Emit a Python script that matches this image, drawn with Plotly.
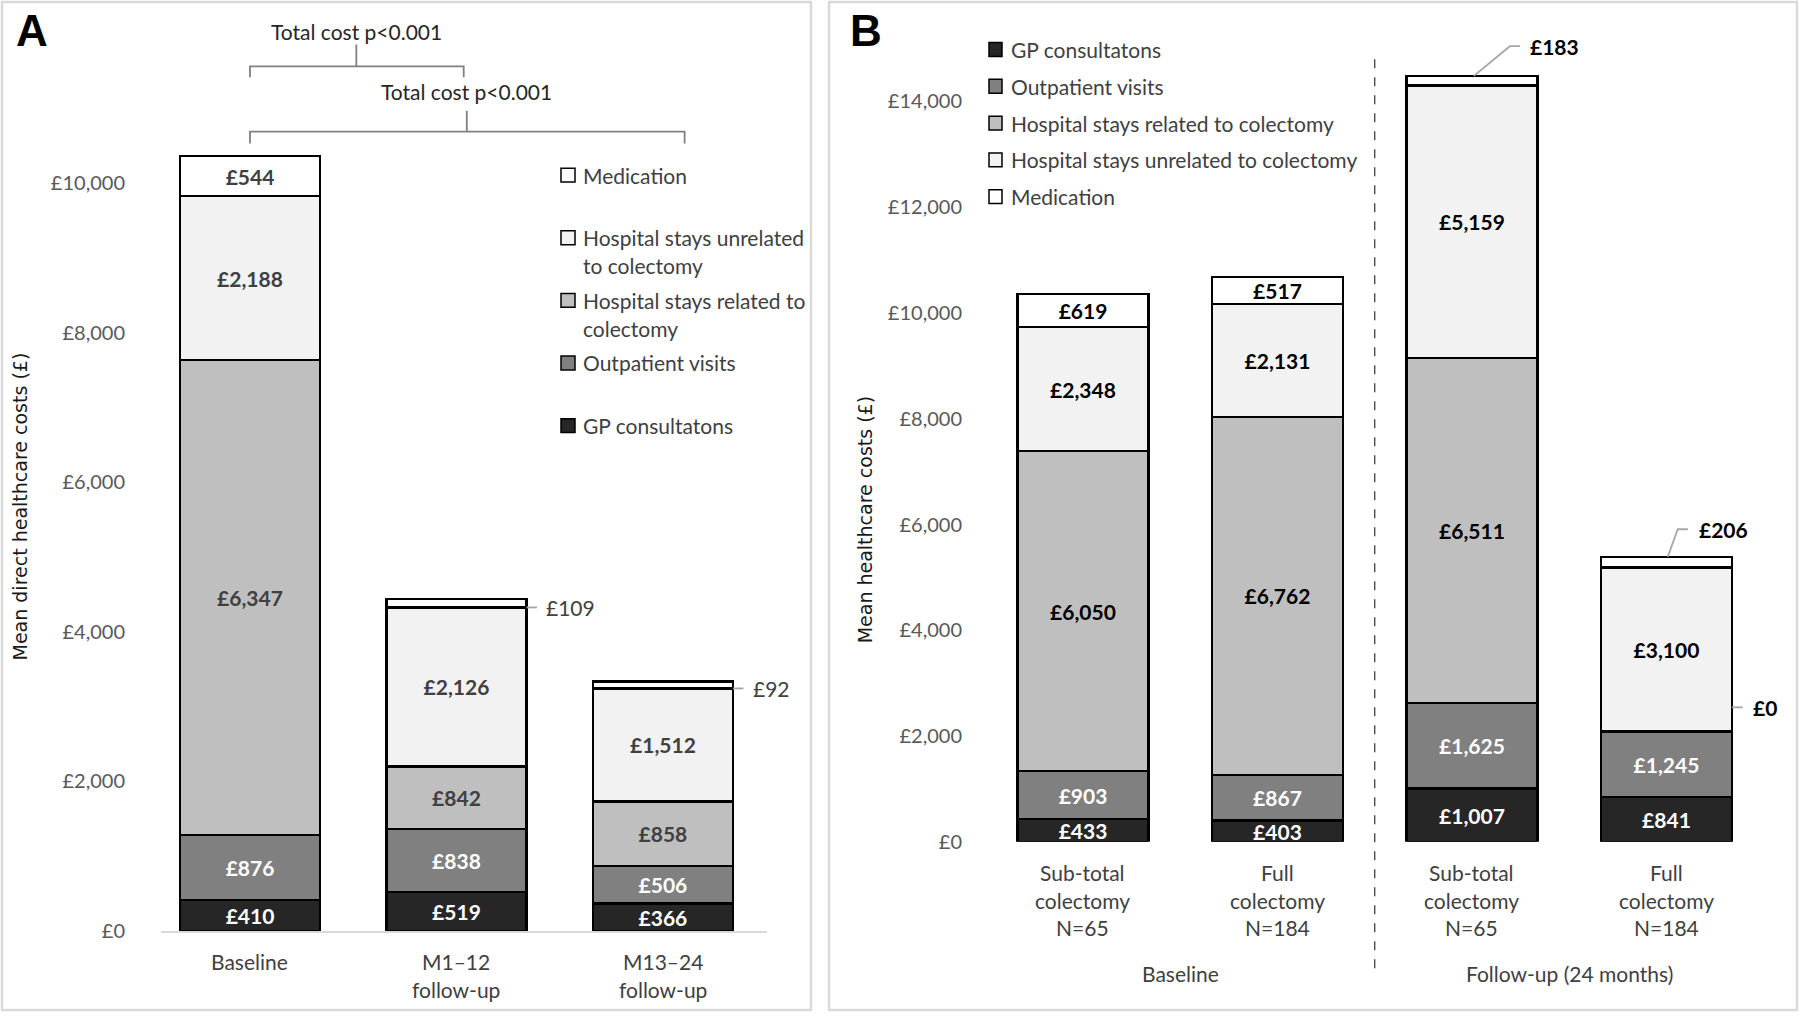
import plotly.graph_objects as go

W, H = 1800, 1023

# ---------------- data ----------------
components = ["GP consultatons", "Outpatient visits", "Hospital stays related to colectomy",
              "Hospital stays unrelated to colectomy", "Medication"]
legend_a_lines = [["GP consultatons"], ["Outpatient visits"],
                  ["Hospital stays related to", "colectomy"],
                  ["Hospital stays unrelated", "to colectomy"], ["Medication"]]
colors = ["#262626", "#808080", "#bfbfbf", "#f2f2f2", "#ffffff"]

# Panel A
periods_a = ["Baseline", "M1–12<br>follow-up", "M13–24<br>follow-up"]
gp_a = [410, 519, 366]
outpatient_a = [876, 838, 506]
hosp_rel_a = [6347, 842, 858]
hosp_unrel_a = [2188, 2126, 1512]
medication_a = [544, 109, 92]

# Panel B
groups_b = ["Sub-total<br>colectomy<br>N=65", "Full<br>colectomy<br>N=184",
            "Sub-total<br>colectomy<br>N=65", "Full<br>colectomy<br>N=184"]
periods_b = ["Baseline", "Follow-up (24 months)"]
gp_b = [433, 403, 1007, 841]
outpatient_b = [903, 867, 1625, 1245]
hosp_rel_b = [6050, 6762, 6511, 0]
hosp_unrel_b = [2348, 2131, 5159, 3100]
medication_b = [619, 517, 183, 206]

yticks_a = [0, 2000, 4000, 6000, 8000, 10000]
yticks_b = [0, 2000, 4000, 6000, 8000, 10000, 12000, 14000]
pval_text = "Total cost p&lt;0.001"

series_a = [gp_a, outpatient_a, hosp_rel_a, hosp_unrel_a, medication_a]
series_b = [gp_b, outpatient_b, hosp_rel_b, hosp_unrel_b, medication_b]


def X(px):
    return px / W


def Y(py):
    return 1 - py / H


def money(v):
    return "£{:,}".format(v)


FONT = "Lato"
TICK_COLOR = "#595959"
TXT = "#404040"
TS = 21  # general text size

fig = go.Figure()

# ---------------- bars ----------------
inside_min = 300
for panel, series, xa, ya, width, dark_txt in [
        ("A", series_a, "x", "y", 0.678, "#404040"),
        ("B", series_b, "x2", "y2", 0.673, "#000000")]:
    for i, vals in enumerate(series):
        txt = [money(v) if v >= inside_min else "" for v in vals]
        fig.add_trace(go.Bar(
            x=list(range(len(vals))), y=vals, name=components[i],
            xaxis=xa, yaxis=ya, width=width,
            marker=dict(color=colors[i], line=dict(color="#000000", width=2.2)),
            text=txt, textposition="inside", insidetextanchor="middle",
            textangle=0, constraintext="none",
            textfont=dict(family=FONT, size=21, weight="bold",
                          color="#ffffff" if i < 2 else dark_txt),
            showlegend=False, hoverinfo="skip"))

fig.update_layout(
    width=W, height=H, barmode="stack", plot_bgcolor="white", paper_bgcolor="white",
    margin=dict(l=0, r=0, t=0, b=0), showlegend=False,
    uniformtext=dict(minsize=21, mode="show"),
    xaxis=dict(domain=[X(161), X(767)], range=[-0.431, 2.504], showticklabels=False,
               showline=True, linecolor="#d9d9d9", linewidth=2, showgrid=False,
               zeroline=False, ticks="", anchor="y"),
    yaxis=dict(domain=[Y(941), Y(109.4)], range=[0, 11000], tickvals=yticks_a,
               ticktext=[money(v) for v in yticks_a], showgrid=False, zeroline=False,
               ticks="", ticklabelstandoff=35, anchor="x",
               tickfont=dict(family=FONT, size=20, color=TICK_COLOR)),
    xaxis2=dict(domain=[X(1000), X(1760)], range=[-0.4267, 3.481], showticklabels=False,
                showline=False, showgrid=False, zeroline=False, ticks="", anchor="y2"),
    yaxis2=dict(domain=[Y(851), Y(22.4)], range=[0, 15500], tickvals=yticks_b,
                ticktext=[money(v) for v in yticks_b], showgrid=False, zeroline=False,
                ticks="", ticklabelstandoff=37, anchor="x2",
                tickfont=dict(family=FONT, size=20, color=TICK_COLOR)),
)

shapes = []
ann = []


def note(text, x, y, xref="paper", yref="paper", xanchor="center", size=TS, color=TXT,
         family=FONT, angle=0):
    ann.append(dict(text=text, x=x, y=y, xref=xref, yref=yref, xanchor=xanchor, yanchor="middle",
                    showarrow=False, textangle=angle, font=dict(family=family, size=size, color=color)))


# panel borders
shapes.append(dict(type="rect", xref="paper", yref="paper", x0=X(2), x1=X(811), y0=Y(2), y1=Y(1021),
                   line=dict(color="#d9d9d9", width=2.5)))
shapes.append(dict(type="rect", xref="paper", yref="paper", x0=X(829), x1=X(1797), y0=Y(2), y1=Y(1021),
                   line=dict(color="#d9d9d9", width=2.5)))

# panel letters
note("<b>A</b>", X(32), Y(31), size=44, color="#000000", family="Liberation Sans")
note("<b>B</b>", X(866), Y(31), size=44, color="#000000", family="Liberation Sans")

# y-axis titles
note("Mean direct healthcare costs (£)", X(20), Y(512), size=19, color="#1a1a1a",
     family="DejaVu Sans", angle=-90)
note("Mean healthcare costs (£)", X(865), Y(526), size=19, color="#1a1a1a",
     family="DejaVu Sans", angle=-90)

# category labels A
for i, lab in enumerate(periods_a):
    for j, line in enumerate(lab.split("<br>")):
        note(line, i, Y(972 + 28 * j), xref="x")
# category labels B
for i, lab in enumerate(groups_b):
    for j, line in enumerate(lab.split("<br>")):
        note(line, i, Y(882 + 28 * j), xref="x2")
for k, lab in enumerate(periods_b):
    note(lab, 0.5 + 2 * k, Y(984), xref="x2")

# dashed separator in B
shapes.append(dict(type="line", xref="x2", yref="paper", x0=1.5, x1=1.5, y0=Y(60), y1=Y(980),
                   line=dict(color="#404040", width=1.3, dash="dash")))

# brackets A
BR = dict(color="#808080", width=1.8)
for (xl, xr, xs, ytop, ybar, yarm, ytext) in [(0.0, 1.035, 0.515, 45, 67, 78, 32),
                                                (0.0, 2.105, 1.05, 112, 133, 145, 92)]:
    shapes.append(dict(type="path", xref="x", yref="paper",
                       path=f"M {xl},{Y(yarm)} L {xl},{Y(ybar)} L {xr},{Y(ybar)} L {xr},{Y(yarm)}",
                       line=BR))
    shapes.append(dict(type="line", xref="x", yref="paper", x0=xs, x1=xs, y0=Y(ytop), y1=Y(ybar), line=BR))
    note(pval_text, xs, Y(ytext), xref="x", color="#262626")

# callouts A (small medication segments)
LEAD = dict(color="#a6a6a6", width=1.8)
for b in range(len(periods_a)):
    v = medication_a[b]
    if v >= inside_min:
        continue
    base = gp_a[b] + outpatient_a[b] + hosp_rel_a[b] + hosp_unrel_a[b]
    shapes.append(dict(type="line", xref="x", yref="y", x0=b + 0.339, x1=b + 0.39, y0=base, y1=base, line=LEAD))
    note(money(v), b + 0.425, base, xref="x", yref="y", xanchor="left")

# callouts B
tot_b = [sum(s[k] for s in series_b) for k in range(4)]
# £183 (medication, bar 2)
t = tot_b[2]
shapes.append(dict(type="path", xref="x2", yref="y2",
                   path=f"M 2.01,{t} L 2.195,{t + 560} L 2.247,{t + 560}", line=LEAD))
note("<b>" + money(medication_b[2]) + "</b>", 2.288, t + 560, xref="x2", yref="y2", xanchor="left",
     color="#000000")
# £206 (medication, bar 3)
t = tot_b[3]
shapes.append(dict(type="path", xref="x2", yref="y2",
                   path=f"M 3.007,{t} L 3.058,{t + 519} L 3.11,{t + 519}", line=LEAD))
note("<b>" + money(medication_b[3]) + "</b>", 3.156, t + 519, xref="x2", yref="y2", xanchor="left",
     color="#000000")
# £0 (hospital related, bar 3)
base = gp_b[3] + outpatient_b[3] + hosp_rel_b[3] + 458
shapes.append(dict(type="line", xref="x2", yref="y2", x0=3.336, x1=3.392, y0=base, y1=base, line=LEAD))
note("<b>" + money(hosp_rel_b[3]) + "</b>", 3.433, base, xref="x2", yref="y2", xanchor="left",
     color="#000000")

# legend A (Medication at top)
order_a = [4, 3, 2, 1, 0]
for k, ci in enumerate(order_a):
    yc = 177 + 63.3 * k
    shapes.append(dict(type="rect", xref="paper", yref="paper", x0=X(561), x1=X(575), y0=Y(yc - 7), y1=Y(yc + 7),
                       fillcolor=colors[ci], line=dict(color="#000000", width=1.5)))
    for j, line in enumerate(legend_a_lines[ci]):
        note(line, X(581), Y(yc + 28 * j), xanchor="left")

# legend B (GP at top)
for ci in range(5):
    yc = 50 + 37.2 * ci
    shapes.append(dict(type="rect", xref="paper", yref="paper", x0=X(989), x1=X(1002), y0=Y(yc - 7), y1=Y(yc + 7),
                       fillcolor=colors[ci], line=dict(color="#000000", width=1.5)))
    note(components[ci], X(1009), Y(yc), xanchor="left")

fig.update_layout(shapes=shapes, annotations=ann)
fig.write_html("out.html", config={"displayModeBar": False},
               post_script="document.body.style.margin='0px';document.body.style.overflow='hidden';")
